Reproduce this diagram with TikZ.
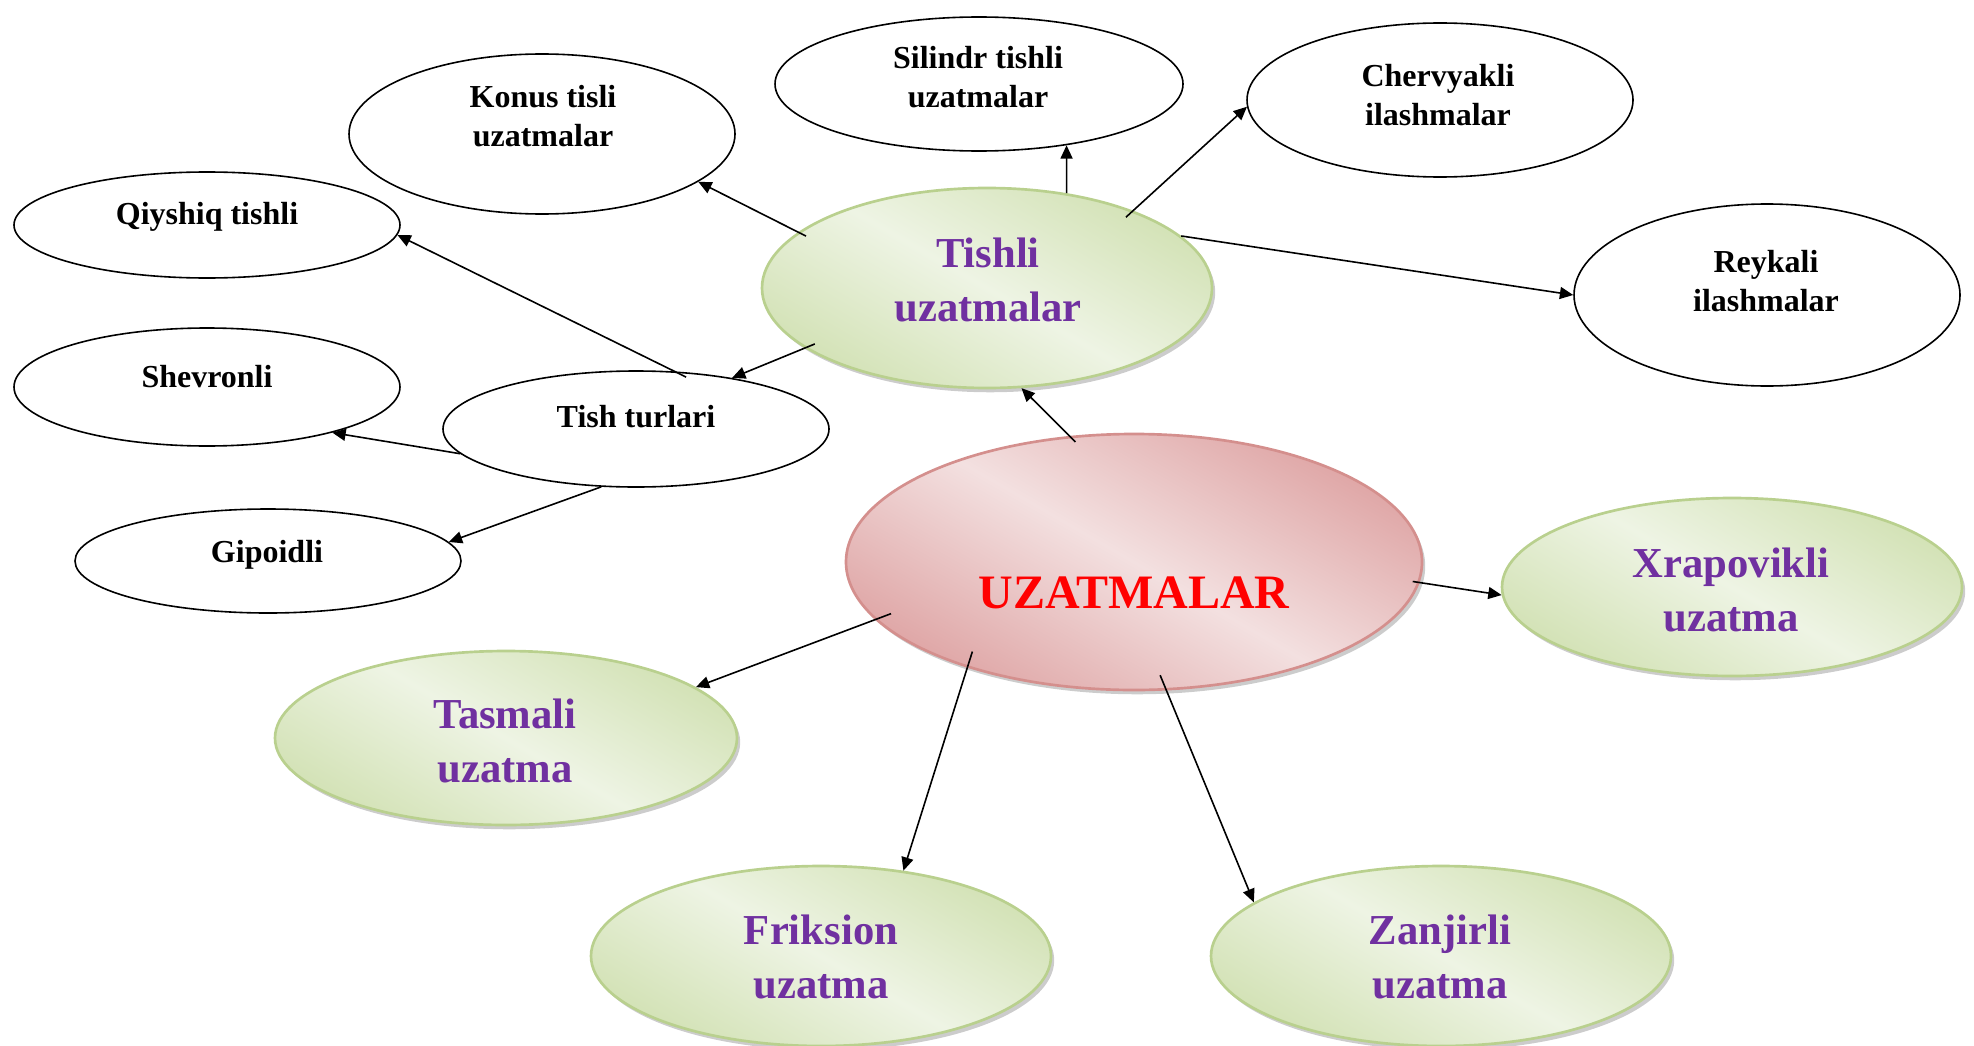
\documentclass[tikz,border=0pt]{standalone}
\usepackage{fontspec}
\setmainfont{Liberation Serif}
\usetikzlibrary{shapes.geometric,shadows,arrows.meta,calc}
\definecolor{grnL}{HTML}{EEF4E4}
\definecolor{grnD}{HTML}{D3E2B6}
\definecolor{grnB}{HTML}{B9D08E}
\definecolor{redL}{HTML}{F3E0E0}
\definecolor{redD}{HTML}{DFA6A6}
\definecolor{redB}{HTML}{D48F8D}
\definecolor{purp}{HTML}{7030A0}
\begin{document}
\begin{tikzpicture}[x=0.375pt,y=-0.375pt,
  sz/.style 2 args={minimum width=#1*0.75pt, minimum height=#2*0.75pt},
  wh/.style={ellipse, draw=black, line width=0.6pt, fill=white, inner sep=0pt},
  gr/.style={ellipse, draw=grnB, line width=1pt, inner sep=0pt,
    top color=grnD, bottom color=grnD, middle color=grnL, shading angle=-30,
    drop shadow={shadow xshift=1.2pt, shadow yshift=-1.6pt, fill=black, opacity=0.2}},
  rd/.style={ellipse, draw=redB, line width=1pt, inner sep=0pt,
    top color=redD, bottom color=redD, middle color=redL, shading angle=-30,
    drop shadow={shadow xshift=1.2pt, shadow yshift=-1.6pt, fill=black, opacity=0.2}},
  bt/.style={font=\fontsize{12}{14.6}\selectfont\bfseries, align=center, inner sep=0pt},
  gt/.style={font=\fontsize{16}{20}\selectfont\bfseries, text=purp, align=center, inner sep=0pt},
  rt/.style={font=\fontsize{18}{22}\selectfont\bfseries, text=red, align=center, inner sep=0pt},
  arr/.style={-{Triangle[length=5pt,width=4.5pt]}, line width=0.6pt}
]
\useasboundingbox (0,0) rectangle (1974,1045);
% ellipses
\node[rd, sz={288}{128}] (U) at (1134,562) {};
\node[gr, sz={225}{100}] (T) at (987,288) {};
\node[gr, sz={231}{87}] (Ta) at (506,738) {};
\node[gr, sz={230}{90}] (F) at (821,956) {};
\node[gr, sz={230}{90}] (Z) at (1441,956) {};
\node[gr, sz={230}{89}] (X) at (1732,587) {};
\node[wh, sz={193}{80}] (K) at (542,134) {};
\node[wh, sz={204}{67}] (S) at (979,84) {};
\node[wh, sz={193}{77}] (C) at (1440,100) {};
\node[wh, sz={193}{91}] (R) at (1767,295) {};
\node[wh, sz={193}{53}] (Q) at (207,225) {};
\node[wh, sz={193}{59}] (Sh) at (207,387) {};
\node[wh, sz={193}{58}] (TT) at (636,429) {};
\node[wh, sz={193}{52}] (G) at (268,561) {};
% texts
\node[rt] (Ut) at (1134,593) {UZATMALAR};
\node[gt] (Tt) at (988,280) {Tishli\\uzatmalar};
\node[gt] (Tat) at (505,741) {Tasmali\\uzatma};
\node[gt] (Ft) at (821,957) {Friksion\\uzatma};
\node[gt] (Zt) at (1440,957) {Zanjirli\\uzatma};
\node[gt] (Xt) at (1731,590) {Xrapovikli\\uzatma};
\node[bt] (Kt) at (543,116) {Konus tisli\\uzatmalar};
\node[bt] (St) at (978,77) {Silindr tishli\\uzatmalar};
\node[bt] (Ct) at (1438,95) {Chervyakli\\ilashmalar};
\node[bt] (Rt) at (1766,281) {Reykali\\ilashmalar};
\node[bt] (Qt) at (207,217) {Qiyshiq tishli};
\node[bt] (Sht) at (207,377) {Shevronli};
\node[bt] (TTt) at (636,417) {Tish turlari};
\node[bt] (Gt) at (267,555) {Gipoidli};
% connectors
\draw[arr] ($(U.center)!0.95!(U.116)$) -- (T.-71);
\draw[arr] ($(T.center)!0.95!(T.164)$) -- (K.-17);
\draw[arr] (T.50) -- (S.-35);
\draw[arr] ($(T.center)!0.93!(T.27)$) -- (C.182);
\draw[arr] (T.15) -- (R.180);
\draw[arr] ($(T.center)!0.94!(T.198)$) -- (TT.28);
\draw[arr] ($(TT.center)!0.92!(TT.46)$) -- (Q.-3);
\draw[arr] (TT.188) -- (Sh.-20);
\draw[arr] (TT.239) -- (G.6);
\draw[arr] ($(U.center)!0.975!(U.-4)$) -- (X.182);
\draw[arr] ($(U.center)!0.93!(U.192)$) -- (Ta.15);
\draw[arr] ($(U.center)!0.89!(U.209)$) -- (F.46);
\draw[arr] ($(U.center)!0.88!(U.283)$) -- (Z.164);
\end{tikzpicture}
\end{document}
